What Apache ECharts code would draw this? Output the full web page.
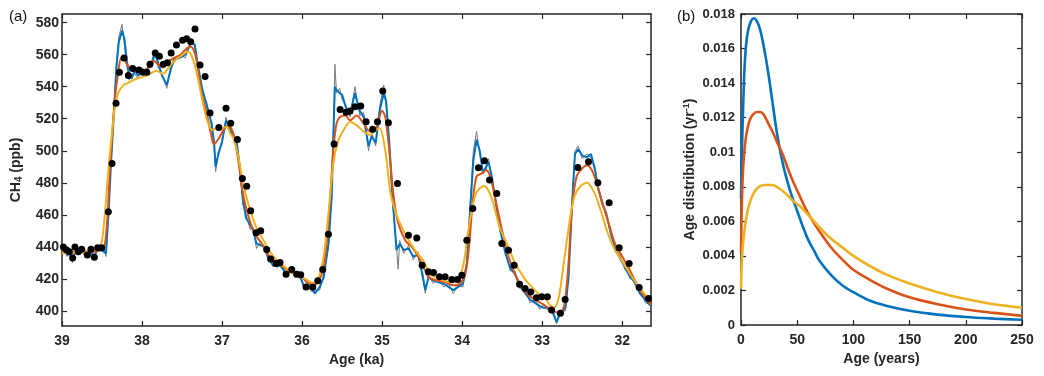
<!DOCTYPE html>
<html>
<head>
<meta charset="utf-8">
<script src="https://cdn.jsdelivr.net/npm/echarts@6/dist/echarts.min.js"></script>
<style>
html,body{margin:0;padding:0;background:#fff;}
#chart{width:1044px;height:376px;}
</style>
</head>
<body>
<div id="chart"></div>
<script>
// ---------- Panel (a) data: CH4 (ppb) vs Age (ka) ----------
const ageTicks = [39, 38, 37, 36, 35, 34, 33, 32];
const ch4Ticks = [400, 420, 440, 460, 480, 500, 520, 540, 560, 580];

const grayLine = [[39.0,436],[38.97,439],[38.94,434],[38.9,437],[38.87,430],[38.84,438],[38.8,435],[38.77,439],[38.73,435],[38.7,438],[38.66,435],[38.62,438],[38.6,432],[38.56,439],[38.52,437],[38.48,440],[38.45,434],[38.42,462],[38.39,492],[38.35,528],[38.32,555],[38.29,571],[38.25,579],[38.22,566],[38.19,553],[38.16,544],[38.13,548],[38.09,548],[38.05,545],[38.0,552],[37.94,549],[37.88,556],[37.84,563],[37.8,552],[37.75,548],[37.69,539],[37.64,553],[37.6,555],[37.53,560],[37.46,558],[37.38,570],[37.34,565],[37.3,551],[37.25,537],[37.19,530],[37.13,515],[37.1,503],[37.08,487],[37.05,499],[37.0,504],[36.95,521],[36.92,514],[36.87,512],[36.82,505],[36.78,492],[36.74,466],[36.7,460],[36.65,451],[36.61,452],[36.57,439],[36.52,443],[36.46,437],[36.42,431],[36.36,430],[36.31,427],[36.25,429],[36.2,421],[36.15,427],[36.09,421],[36.03,424],[35.98,414],[35.94,417],[35.88,412],[35.84,413],[35.78,413],[35.73,423],[35.67,440],[35.63,475],[35.6,530],[35.59,554],[35.57,536],[35.53,539],[35.5,532],[35.44,527],[35.4,521],[35.34,540],[35.28,522],[35.23,524],[35.17,500],[35.13,511],[35.08,503],[35.03,528],[34.98,541],[34.95,528],[34.91,503],[34.87,468],[34.82,440],[34.8,426],[34.78,444],[34.73,436],[34.67,441],[34.61,432],[34.55,437],[34.5,422],[34.46,411],[34.42,423],[34.36,417],[34.3,420],[34.23,415],[34.17,417],[34.11,411],[34.05,416],[33.99,415],[33.94,432],[33.9,466],[33.86,500],[33.82,512],[33.78,498],[33.74,488],[33.7,488],[33.67,495],[33.63,482],[33.59,473],[33.53,450],[33.46,438],[33.4,425],[33.34,425],[33.28,414],[33.21,413],[33.15,405],[33.09,407],[33.03,401],[32.98,404],[32.92,400],[32.86,400],[32.82,392],[32.78,400],[32.71,400],[32.67,424],[32.63,466],[32.59,500],[32.55,503],[32.5,495],[32.44,498],[32.39,496],[32.34,490],[32.3,475],[32.25,469],[32.2,459],[32.15,452],[32.09,437],[32.03,435],[31.96,425],[31.9,423],[31.84,416],[31.78,413],[31.71,405],[31.64,404]];

const blueLine = [[39.0,437],[38.95,436],[38.9,435],[38.87,432],[38.84,437],[38.8,436],[38.75,438],[38.7,436],[38.65,437],[38.6,434],[38.56,438],[38.52,439],[38.48,437],[38.45,436],[38.42,460],[38.39,490],[38.35,525],[38.32,552],[38.29,568],[38.25,575],[38.22,570],[38.19,556],[38.16,548],[38.13,545],[38.09,550],[38.05,547],[38.0,549],[37.94,551],[37.88,553],[37.84,561],[37.8,555],[37.75,547],[37.69,541],[37.64,551],[37.6,557],[37.53,558],[37.46,560],[37.38,568],[37.34,566],[37.3,553],[37.25,539],[37.19,528],[37.13,517],[37.1,505],[37.08,490],[37.05,497],[37.0,506],[36.95,519],[36.92,516],[36.87,510],[36.82,507],[36.78,490],[36.74,470],[36.7,458],[36.65,454],[36.61,450],[36.57,442],[36.52,441],[36.46,440],[36.42,433],[36.36,428],[36.31,430],[36.25,427],[36.2,423],[36.15,425],[36.09,423],[36.03,422],[35.98,416],[35.94,415],[35.88,414],[35.84,411],[35.78,415],[35.73,421],[35.67,442],[35.63,471],[35.6,525],[35.59,540],[35.57,538],[35.53,536],[35.5,535],[35.44,525],[35.4,523],[35.34,536],[35.28,525],[35.23,521],[35.17,503],[35.13,509],[35.08,505],[35.03,525],[34.98,536],[34.95,531],[34.91,505],[34.87,471],[34.82,438],[34.78,442],[34.73,438],[34.67,439],[34.61,434],[34.55,435],[34.5,424],[34.46,413],[34.42,421],[34.36,419],[34.3,418],[34.23,417],[34.17,415],[34.11,413],[34.05,415],[33.99,417],[33.94,430],[33.9,463],[33.86,494],[33.82,507],[33.78,500],[33.74,486],[33.7,490],[33.67,493],[33.63,484],[33.59,471],[33.53,452],[33.46,436],[33.4,427],[33.34,423],[33.28,416],[33.21,411],[33.15,407],[33.09,405],[33.03,403],[32.98,402],[32.92,402],[32.86,398],[32.82,393],[32.78,398],[32.71,402],[32.67,421],[32.63,463],[32.59,498],[32.55,501],[32.5,497],[32.44,496],[32.39,498],[32.34,488],[32.3,477],[32.25,467],[32.2,461],[32.15,450],[32.09,439],[32.03,433],[31.96,427],[31.9,421],[31.84,418],[31.78,411],[31.71,407],[31.64,403]];

const redLine = [[39.0,437],[38.9,436],[38.8,437],[38.7,437],[38.6,437],[38.52,438],[38.47,440],[38.43,460],[38.4,490],[38.37,512],[38.34,532],[38.3,548],[38.26,558],[38.22,557],[38.19,554],[38.13,551],[38.03,550],[37.94,551],[37.85,556],[37.8,554],[37.74,552],[37.69,555],[37.6,558],[37.52,560],[37.44,564],[37.39,565],[37.34,561],[37.3,551],[37.26,537],[37.2,525],[37.14,511],[37.1,504],[37.05,507],[36.98,513],[36.92,516],[36.86,511],[36.8,495],[36.73,471],[36.67,459],[36.59,448],[36.5,442],[36.42,435],[36.34,431],[36.25,428],[36.17,425],[36.09,423],[36.0,421],[35.94,418],[35.86,416],[35.8,418],[35.73,427],[35.67,455],[35.61,500],[35.57,517],[35.53,521],[35.46,522],[35.4,519],[35.32,522],[35.23,517],[35.15,512],[35.08,513],[35.0,525],[34.96,521],[34.91,500],[34.86,473],[34.8,455],[34.71,444],[34.63,440],[34.55,434],[34.46,425],[34.42,421],[34.32,419],[34.21,418],[34.11,416],[34.03,417],[33.96,423],[33.91,442],[33.87,467],[33.82,484],[33.75,486],[33.7,488],[33.65,484],[33.59,471],[33.5,450],[33.42,434],[33.34,423],[33.25,415],[33.17,410],[33.09,407],[32.98,404],[32.9,401],[32.8,399],[32.73,402],[32.67,430],[32.63,463],[32.57,484],[32.5,489],[32.44,491],[32.38,488],[32.32,480],[32.25,468],[32.17,455],[32.09,442],[32.0,434],[31.92,427],[31.84,419],[31.75,411],[31.64,404]];

const yellowLine = [[39.0,436],[38.9,436],[38.8,437],[38.7,437],[38.6,438],[38.54,439],[38.5,444],[38.46,463],[38.42,488],[38.38,509],[38.34,527],[38.3,536],[38.23,541],[38.15,543],[38.07,545],[37.99,546],[37.9,548],[37.82,550],[37.74,548],[37.68,551],[37.6,556],[37.52,559],[37.43,562],[37.37,558],[37.3,545],[37.24,530],[37.18,518],[37.12,513],[37.06,514],[37.0,514],[36.94,515],[36.9,511],[36.86,508],[36.8,497],[36.73,478],[36.65,463],[36.57,452],[36.48,444],[36.4,437],[36.32,432],[36.23,428],[36.15,425],[36.05,422],[35.96,420],[35.86,417.5],[35.8,420],[35.73,434],[35.67,461],[35.61,492],[35.55,506],[35.48,513],[35.4,518],[35.32,516],[35.23,512],[35.15,510],[35.08,513],[35.03,514],[34.96,500],[34.9,475],[34.84,463],[34.78,455],[34.69,446],[34.59,438],[34.48,431],[34.4,423],[34.28,420],[34.15,418],[34.05,419],[33.98,430],[33.94,444],[33.88,463],[33.82,474],[33.73,478],[33.67,475],[33.61,467],[33.53,452],[33.44,442],[33.34,430],[33.23,421],[33.13,415],[33.03,410],[32.96,408],[32.91,404],[32.85,402],[32.79,409],[32.73,430],[32.66,455],[32.6,471],[32.52,478],[32.44,480],[32.35,474],[32.27,463],[32.19,450],[32.1,439],[32.0,431],[31.9,423],[31.79,415],[31.71,410],[31.64,407]];

const dots = [[38.983,440],[38.942,438],[38.908,437],[38.867,433],[38.838,440],[38.796,437],[38.754,438.5],[38.683,435],[38.638,438.5],[38.596,433.5],[38.554,439.5],[38.504,439.5],[38.421,462],[38.375,492],[38.325,529.6],[38.283,549],[38.225,558],[38.171,547],[38.117,551.3],[38.04,550.5],[37.99,549],[37.94,549],[37.9,554],[37.835,561],[37.783,559],[37.735,554],[37.683,555],[37.636,561],[37.57,566],[37.494,569],[37.442,570],[37.392,568],[37.338,576],[37.275,553.5],[37.212,546.3],[37.15,523.6],[37.04,514.6],[36.95,526.6],[36.892,517.2],[36.808,507],[36.746,482.7],[36.692,477.9],[36.642,462.5],[36.575,448.8],[36.517,450],[36.442,438.3],[36.392,432.5],[36.325,429.6],[36.275,430.2],[36.2,422.9],[36.129,425.8],[36.067,422.9],[36.017,422.6],[35.95,415],[35.867,415],[35.804,418.8],[35.742,425.8],[35.671,447.9],[35.6,504.3],[35.525,525.8],[35.45,524],[35.4,524.8],[35.338,527.5],[35.267,527.9],[35.2,518.1],[35.117,513.5],[35.058,518.1],[34.992,537.3],[34.921,517.5],[34.808,479.6],[34.671,447.3],[34.567,445.6],[34.5,428.5],[34.421,424.4],[34.358,424],[34.283,421.3],[34.213,421.3],[34.129,419.6],[34.058,419.6],[34.004,422.3],[33.942,444.2],[33.867,464],[33.796,489.4],[33.721,493.8],[33.658,481.7],[33.567,473.3],[33.504,442.1],[33.421,437.9],[33.35,428.5],[33.283,416.7],[33.213,414],[33.142,411.9],[33.072,408.3],[33.006,408.8],[32.935,408.8],[32.882,400.6],[32.772,398.6],[32.713,407.1],[32.554,489.6],[32.421,493.1],[32.304,480],[32.163,467.5],[32.038,439.4],[31.913,429.6],[31.788,414.6],[31.671,407.7]];

// ---------- Panel (b) data: age distribution (yr^-1) vs age (years) ----------
const yearTicks = [0, 50, 100, 150, 200, 250];
const distTicks = [0, 0.002, 0.004, 0.006, 0.008, 0.01, 0.012, 0.014, 0.016, 0.018];

const blueDist = [[0,0.0073],[1,0.0105],[2,0.0128],[3,0.0147],[4.5,0.0162],[6.5,0.0171],[9,0.0176],[11.5,0.01775],[14,0.0176],[17,0.0171],[20,0.0162],[24,0.0147],[28,0.0129],[32,0.0111],[36,0.0097],[40,0.0086],[45,0.0075],[50,0.0066],[55,0.0057],[60,0.0049],[65,0.0043],[70,0.0037],[80,0.0029],[90,0.0023],[100,0.0019],[115,0.0014],[130,0.0011],[150,0.00082],[175,0.0006],[200,0.00046],[225,0.00037],[250,0.0003]];
const redDist = [[0,0.0042],[0.8,0.0072],[2,0.0092],[3.5,0.0104],[5.5,0.0113],[8,0.0119],[11,0.0122],[14,0.01233],[17,0.01233],[20,0.0122],[24,0.0117],[28,0.0112],[32,0.0106],[37,0.0099],[42,0.009],[47,0.0082],[52,0.0075],[57,0.0068],[63,0.0061],[70,0.0054],[80,0.0045],[90,0.0038],[100,0.0032],[115,0.0026],[130,0.0021],[150,0.0016],[175,0.0012],[200,0.0009],[225,0.0007],[250,0.00053]];
const yellowDist = [[0,0.0021],[0.6,0.0035],[1.8,0.0047],[4,0.0059],[7,0.0069],[11,0.0076],[16,0.008],[22,0.0081],[28,0.0081],[34,0.0079],[40,0.0076],[46,0.0072],[52,0.0069],[58,0.0065],[65,0.006],[72,0.0055],[80,0.005],[90,0.0045],[100,0.004],[115,0.0034],[130,0.0029],[150,0.0024],[175,0.0019],[200,0.0015],[225,0.0012],[250,0.001]];

// ---------- styling ----------
const FONT = '"Liberation Sans", Arial, Helvetica, sans-serif';
const AX = '#262626';
const C_BLUE = '#0072BD', C_RED = '#D95319', C_YEL = '#EDB120', C_GRAY = '#7a7a7a';

function frameAxis(base) {
  return Object.assign({
    type: 'value',
    axisLine: { show: true, onZero: false, lineStyle: { color: AX, width: 1.5 } },
    splitLine: { show: false },
    axisLabel: { show: false }
  }, base);
}
const ticks = vals => ({ show: true, inside: true, length: 5, customValues: vals, lineStyle: { color: AX, width: 1.2 } });
const tickLabel = (vals, margin, size, fmt) => ({
  show: true, customValues: vals, margin: margin, color: AX,
  fontFamily: FONT, fontWeight: 'bold', fontSize: size, formatter: fmt
});

const chart = echarts.init(document.getElementById('chart'), null, { renderer: 'canvas' });

const option = {
  animation: false,
  backgroundColor: '#fff',
  grid: [
    { left: 62, top: 14, width: 589, height: 312, outerBoundsMode: 'none', containLabel: false },
    { left: 741, top: 14, width: 281, height: 311, outerBoundsMode: 'none', containLabel: false }
  ],
  xAxis: [
    frameAxis({ gridIndex: 0, position: 'bottom', min: 31.64, max: 39, inverse: true,
      axisTick: ticks(ageTicks),
      axisLabel: tickLabel(ageTicks, 8, 14, v => String(Math.round(v))),
      name: 'Age (ka)', nameLocation: 'middle', nameGap: 26,
      nameTextStyle: { fontFamily: FONT, fontWeight: 'bold', fontSize: 14, color: AX } }),
    frameAxis({ gridIndex: 0, position: 'top', min: 31.64, max: 39, inverse: true, axisTick: ticks(ageTicks) }),
    frameAxis({ gridIndex: 1, position: 'bottom', min: 0, max: 250,
      axisTick: ticks(yearTicks),
      axisLabel: tickLabel(yearTicks, 8, 14, v => String(v)),
      name: 'Age (years)', nameLocation: 'middle', nameGap: 25,
      nameTextStyle: { fontFamily: FONT, fontWeight: 'bold', fontSize: 14, color: AX } }),
    frameAxis({ gridIndex: 1, position: 'top', min: 0, max: 250, axisTick: ticks(yearTicks) })
  ],
  yAxis: [
    frameAxis({ gridIndex: 0, position: 'left', min: 390.6, max: 585.4,
      axisTick: ticks(ch4Ticks),
      axisLabel: tickLabel(ch4Ticks, 3, 14, v => String(Math.round(v))),
      name: '{b|CH}{s|4}{b| (ppb)}', nameLocation: 'middle', nameGap: 36, nameRotate: 90,
      nameTextStyle: { color: AX, rich: {
        b: { fontFamily: FONT, fontWeight: 'bold', fontSize: 14, color: AX },
        s: { fontFamily: FONT, fontWeight: 'bold', fontSize: 10, color: AX, padding: [8, 0, 0, 0] } } } }),
    frameAxis({ gridIndex: 0, position: 'right', min: 390.6, max: 585.4, axisTick: ticks(ch4Ticks) }),
    frameAxis({ gridIndex: 1, position: 'left', min: 0, max: 0.018,
      axisTick: ticks(distTicks),
      axisLabel: tickLabel(distTicks, 6, 13, v => (v === 0 ? '0' : String(+v.toFixed(3)))),
      name: '{b|Age distribution (yr}{p|-1}{b|)}', nameLocation: 'middle', nameGap: 42, nameRotate: 90,
      nameTextStyle: { color: AX, rich: {
        b: { fontFamily: FONT, fontWeight: 'bold', fontSize: 14, color: AX },
        p: { fontFamily: FONT, fontWeight: 'bold', fontSize: 9, color: AX, padding: [0, 0, 8, 0] } } } }),
    frameAxis({ gridIndex: 1, position: 'right', min: 0, max: 0.018, axisTick: ticks(distTicks) })
  ],
  series: [
    { type: 'line', xAxisIndex: 0, yAxisIndex: 0, data: grayLine, showSymbol: false, lineStyle: { color: C_GRAY, width: 1 }, z: 2 },
    { type: 'line', xAxisIndex: 0, yAxisIndex: 0, data: blueLine, showSymbol: false, lineStyle: { color: C_BLUE, width: 2 }, z: 3 },
    { type: 'line', xAxisIndex: 0, yAxisIndex: 0, data: redLine, showSymbol: false, smooth: 0.3, lineStyle: { color: C_RED, width: 2 }, z: 4 },
    { type: 'line', xAxisIndex: 0, yAxisIndex: 0, data: yellowLine, showSymbol: false, smooth: 0.3, lineStyle: { color: C_YEL, width: 2 }, z: 5 },
    { type: 'scatter', xAxisIndex: 0, yAxisIndex: 0, data: dots, symbolSize: 7, itemStyle: { color: '#000', opacity: 1 }, z: 6 },
    { type: 'line', xAxisIndex: 2, yAxisIndex: 2, data: blueDist, showSymbol: false, smooth: 0.35, lineStyle: { color: C_BLUE, width: 2.6 }, z: 3 },
    { type: 'line', xAxisIndex: 2, yAxisIndex: 2, data: redDist, showSymbol: false, smooth: 0.35, lineStyle: { color: C_RED, width: 2.6 }, z: 4 },
    { type: 'line', xAxisIndex: 2, yAxisIndex: 2, data: yellowDist, showSymbol: false, smooth: 0.35, lineStyle: { color: C_YEL, width: 2.6 }, z: 5 }
  ],
  graphic: [
    { type: 'text', left: 9, top: 9, style: { text: '(a)', fontFamily: FONT, fontSize: 15, fill: '#111' } },
    { type: 'text', left: 677, top: 9, style: { text: '(b)', fontFamily: FONT, fontSize: 15, fill: '#111' } }
  ]
};
chart.setOption(option);
</script>
</body>
</html>
